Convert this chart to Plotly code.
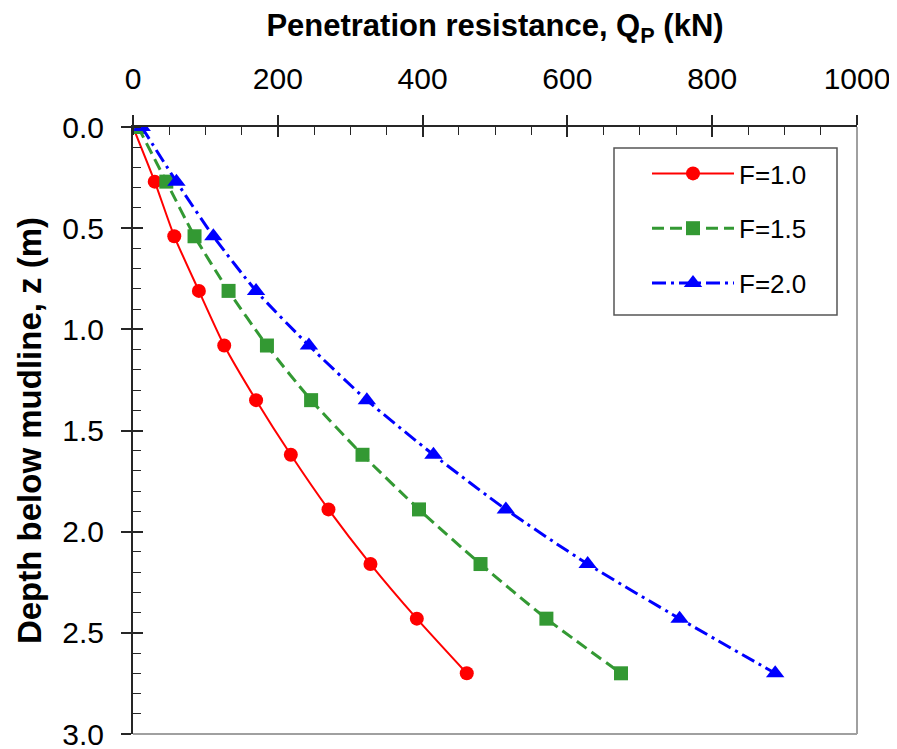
import plotly.graph_objects as go

# ---- data ----
depth_z = [0.0, 0.27, 0.54, 0.81, 1.08, 1.35, 1.62, 1.89, 2.16, 2.43, 2.70]
qp_f10 = [0, 30, 57, 91, 126, 170, 218, 270, 328, 392, 461]
qp_f15 = [7, 46, 85, 132, 185, 246, 317, 395, 480, 571, 674]
qp_f20 = [12, 60, 111, 170, 243, 323, 415, 515, 628, 755, 887]

series_names = ["F=1.0", "F=1.5", "F=2.0"]
x_ticks = [0, 200, 400, 600, 800, 1000]
y_ticks = [0.0, 0.5, 1.0, 1.5, 2.0, 2.5, 3.0]

FONT = "Liberation Sans, Arial, sans-serif"
AXIS_COLOR = "#262626"

# page body has an 8px default margin, so the figure is drawn 8px in
OFF = 8
W, H = 897 - OFF, 749 - OFF
L, R, T, B = 133 - OFF, 40, 127 - OFF, 15

fig = go.Figure()

styles = [
    dict(color="#FF0000", dash="solid", width=2, symbol="circle", size=14),
    dict(color="#339933", dash="12px,6px", width=3, symbol="square", size=14),
    dict(color="#0000FF", dash="14px,5px,3px,5px", width=3, symbol="triangle-up", size=16),
]
for name, vals, st in zip(series_names, [qp_f10, qp_f15, qp_f20], styles):
    fig.add_trace(go.Scatter(
        x=vals, y=depth_z, name=name, mode="lines+markers",
        legendgroup=name,
        line=dict(color=st["color"], dash=st["dash"], width=st["width"],
                  shape="spline", smoothing=0.6),
        marker=dict(symbol=st["symbol"], size=st["size"], color=st["color"]),
    ))

# invisible trace to activate the overlay axes (inside half of the major ticks)
fig.add_trace(go.Scatter(x=[None], y=[None], xaxis="x2", yaxis="y2",
                         showlegend=False, hoverinfo="skip"))

pw, ph = W - L - R, H - T - B


def px_x(p):
    # screen pixel -> paper fraction
    return (p - OFF - L) / pw


def px_y(p):
    return 1 - (p - OFF - T) / ph


fig.update_layout(
    width=W, height=H,
    margin=dict(l=L, r=R, t=T, b=B, autoexpand=False),
    paper_bgcolor="white", plot_bgcolor="white",
    font=dict(family=FONT, size=30, color="black"),
    showlegend=True,
    legend=dict(
        x=px_x(647), y=px_y(150), xanchor="left", yanchor="top",
        xref="paper", yref="paper",
        bgcolor="rgba(0,0,0,0)", borderwidth=0,
        font=dict(family=FONT, size=26, color="black"),
        tracegroupgap=18, itemwidth=82,
    ),
    xaxis=dict(
        side="top", range=[0, 1000], tickvals=x_ticks, automargin=False,
        ticks="outside", ticklen=10, tickwidth=1.5, tickcolor=AXIS_COLOR,
        minor=dict(ticks="inside", dtick=50, ticklen=8, tickwidth=1, tickcolor=AXIS_COLOR),
        showline=True, linecolor=AXIS_COLOR, linewidth=2,
        showgrid=False, zeroline=False,
        ticklabelstandoff=14, ticklabeloverflow="allow",
        tickfont=dict(size=30),
        title=dict(text="<b>Penetration resistance, Q<sub>P</sub> (kN)</b>",
                   font=dict(size=31), standoff=17),
    ),
    yaxis=dict(
        range=[3.0, 0.0], tickvals=y_ticks, tickformat=".1f", automargin=False,
        ticks="outside", ticklen=10, tickwidth=1.5, tickcolor=AXIS_COLOR,
        minor=dict(ticks="inside", dtick=0.1, ticklen=8, tickwidth=1, tickcolor=AXIS_COLOR),
        showline=True, linecolor=AXIS_COLOR, linewidth=2,
        showgrid=False, zeroline=False,
        ticklabelstandoff=11, ticklabeloverflow="allow",
        tickfont=dict(size=30),
        title=dict(text="<b>Depth below mudline, z (m)</b>",
                   font=dict(size=33), standoff=11),
    ),
    xaxis2=dict(
        overlaying="x", side="top", anchor="y2", range=[0, 1000], tickvals=x_ticks,
        ticks="inside", ticklen=10, tickwidth=1.5, tickcolor=AXIS_COLOR,
        showticklabels=False, showline=False, showgrid=False, zeroline=False,
    ),
    yaxis2=dict(
        overlaying="y", side="left", anchor="x2", range=[3.0, 0.0], tickvals=y_ticks,
        ticks="inside", ticklen=10, tickwidth=1.5, tickcolor=AXIS_COLOR,
        showticklabels=False, showline=False, showgrid=False, zeroline=False,
    ),
    shapes=[
        dict(type="line", xref="x domain", yref="y domain", x0=1, x1=1, y0=0, y1=1,
             line=dict(color="#A0A0A0", width=2)),
        dict(type="line", xref="x domain", yref="y domain", x0=0, x1=1, y0=0, y1=0,
             line=dict(color="#A0A0A0", width=2)),
        # legend frame
        dict(type="rect", xref="paper", yref="paper", layer="above",
             x0=px_x(614), x1=px_x(837), y0=px_y(315), y1=px_y(148),
             fillcolor="white", line=dict(color="#555555", width=1.5)),
    ],
)

fig.write_html("out.html")
